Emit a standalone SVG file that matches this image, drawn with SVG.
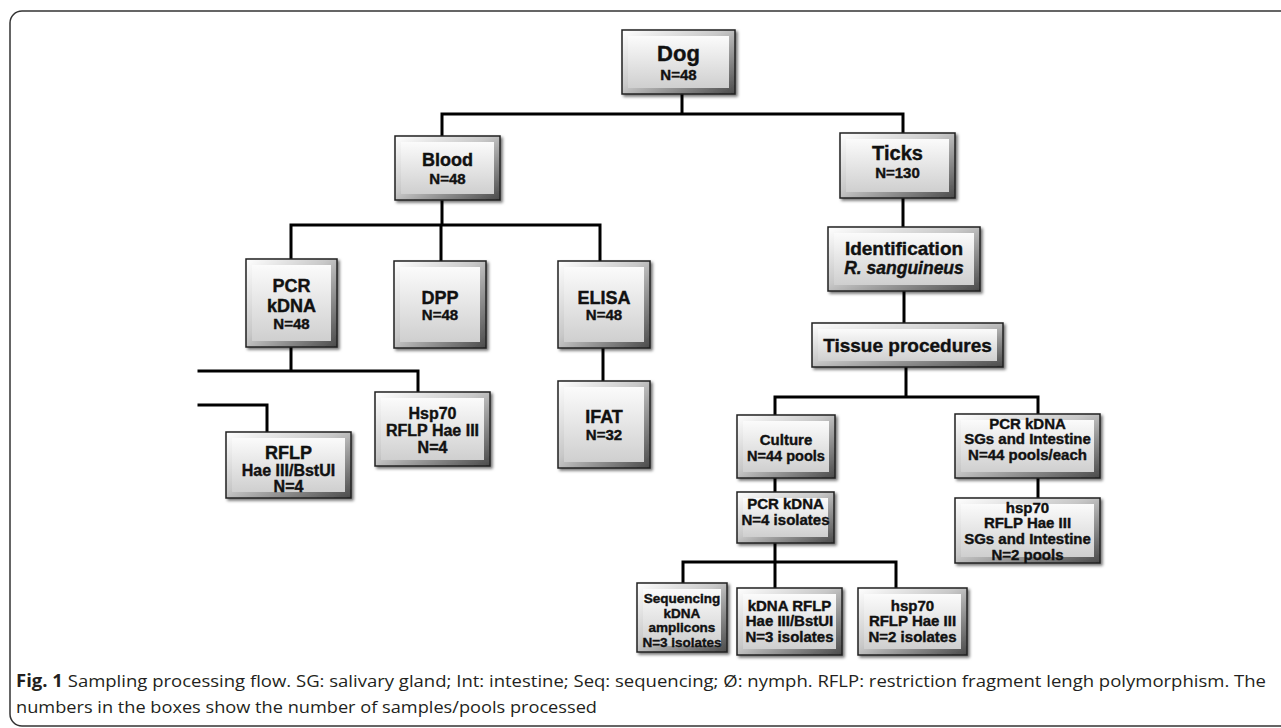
<svg xmlns="http://www.w3.org/2000/svg" width="1281" height="728" viewBox="0 0 1281 728">
<defs>
<linearGradient id="edge" x1="0" y1="0" x2="1" y2="1">
<stop offset="0" stop-color="#ffffff"/>
<stop offset="0.45" stop-color="#c8c8c8"/>
<stop offset="1" stop-color="#4a4a4a"/>
</linearGradient>
<linearGradient id="face" x1="0" y1="0" x2="0" y2="1">
<stop offset="0" stop-color="#fbfbfb"/>
<stop offset="1" stop-color="#cfcfcf"/>
</linearGradient>
<filter id="sh" x="-10%" y="-10%" width="130%" height="130%">
<feDropShadow dx="2" dy="2" stdDeviation="1.5" flood-color="#000" flood-opacity="0.55"/>
</filter>
<style>
.o{fill:url(#edge);stroke:#222;stroke-width:1.5;filter:url(#sh)}
.i{fill:url(#face)}
.t{font-family:"Liberation Sans",Arial,sans-serif;font-weight:bold;text-anchor:middle;fill:#111;stroke:#111;stroke-width:0.4}
.c{fill:none;stroke:#000;stroke-width:3;stroke-linecap:square}
.cap{font-family:"Open Sans","Liberation Sans",sans-serif;font-size:17px;fill:#231f20}
</style>
</defs>
<rect width="1281" height="728" fill="#fff"/>
<path d="M1290,11 H22 A12,12 0 0 0 10,23 V714 A12,12 0 0 0 22,726 H1290" fill="none" stroke="#333" stroke-width="1.5"/>

<g id="connectors">
<path class="c" d="M682,94 V114 M442,114 H903 M442,114 V136 M903,114 V133"/>
<path class="c" d="M442,200 V225 M291,225 H600 M291,225 V259 M441,225 V261 M600,225 V261"/>
<path class="c" d="M291,347 V371 M199,371 H418 V392 M199,405 H267 V432"/>
<path class="c" d="M603,348 V381"/>
<path class="c" d="M903,198 V227 M904,291 V323"/>
<path class="c" d="M906,367 V397 M775,397 H1038 M775,397 V415 M1038,397 V414"/>
<path class="c" d="M775,478 V492 M1038,478 V498"/>
<path class="c" d="M775,543 V588 M683,562 H896 M683,562 V583 M896,562 V588"/>
</g>

<g id="dog">
<rect class="o" x="622" y="30" width="113" height="64"/><rect class="i" x="628" y="36" width="101" height="52"/>
<text class="t" x="678.5" y="61" font-size="22">Dog</text>
<text class="t" x="678.5" y="80" font-size="15">N=48</text>
</g>
<g id="blood">
<rect class="o" x="395" y="136" width="105" height="64"/><rect class="i" x="401" y="142" width="93" height="52"/>
<text class="t" x="447.5" y="165.5" font-size="18">Blood</text>
<text class="t" x="447.5" y="183.5" font-size="15">N=48</text>
</g>
<g id="ticks">
<rect class="o" x="840" y="133" width="115" height="65"/><rect class="i" x="846" y="139" width="103" height="53"/>
<text class="t" x="897.5" y="160" font-size="20">Ticks</text>
<text class="t" x="897.5" y="177.5" font-size="15">N=130</text>
</g>
<g id="identification">
<rect class="o" x="828" y="227" width="152" height="64"/><rect class="i" x="834" y="233" width="140" height="52"/>
<text class="t" x="904" y="255" font-size="19">Identification</text>
<text class="t" x="904" y="274" font-size="17.5" font-style="italic">R. sanguineus</text>
</g>
<g id="tissue">
<rect class="o" x="812" y="323" width="191" height="44"/><rect class="i" x="818" y="329" width="179" height="32"/>
<text class="t" x="907.5" y="352" font-size="19">Tissue procedures</text>
</g>
<g id="pcr-blood">
<rect class="o" x="246" y="259" width="91" height="88"/><rect class="i" x="252" y="265" width="79" height="76"/>
<text class="t" x="291.5" y="291.5" font-size="18">PCR</text>
<text class="t" x="291.5" y="312" font-size="18">kDNA</text>
<text class="t" x="291.5" y="328.5" font-size="15">N=48</text>
</g>
<g id="dpp">
<rect class="o" x="394" y="261" width="92" height="87"/><rect class="i" x="400" y="267" width="80" height="75"/>
<text class="t" x="440" y="303.5" font-size="18">DPP</text>
<text class="t" x="440" y="320" font-size="15">N=48</text>
</g>
<g id="elisa">
<rect class="o" x="558" y="261" width="92" height="87"/><rect class="i" x="564" y="267" width="80" height="75"/>
<text class="t" x="604" y="303.5" font-size="18">ELISA</text>
<text class="t" x="604" y="320" font-size="15">N=48</text>
</g>
<g id="ifat">
<rect class="o" x="558" y="381" width="92" height="87"/><rect class="i" x="564" y="387" width="80" height="75"/>
<text class="t" x="604" y="422.5" font-size="18">IFAT</text>
<text class="t" x="604" y="440" font-size="15">N=32</text>
</g>
<g id="hsp70-blood">
<rect class="o" x="375" y="392" width="115" height="74"/><rect class="i" x="381" y="398" width="103" height="62"/>
<text class="t" x="432.5" y="419" font-size="16">Hsp70</text>
<text class="t" x="432.5" y="436" font-size="16">RFLP Hae III</text>
<text class="t" x="432.5" y="452.5" font-size="16">N=4</text>
</g>
<g id="rflp-blood">
<rect class="o" x="226" y="432" width="125" height="66"/><rect class="i" x="232" y="438" width="113" height="54"/>
<text class="t" x="288.5" y="458.5" font-size="18">RFLP</text>
<text class="t" x="288.5" y="476" font-size="16">Hae III/BstUI</text>
<text class="t" x="288.5" y="491.5" font-size="16">N=4</text>
</g>
<g id="culture">
<rect class="o" x="737" y="415" width="98" height="63"/><rect class="i" x="743" y="421" width="86" height="51"/>
<text class="t" x="786" y="444.5" font-size="15">Culture</text>
<text class="t" x="786" y="460.5" font-size="14.5">N=44 pools</text>
</g>
<g id="pcr-sgs">
<rect class="o" x="955" y="414" width="145" height="64"/><rect class="i" x="961" y="420" width="133" height="52"/>
<text class="t" x="1027.5" y="428.5" font-size="15">PCR kDNA</text>
<text class="t" x="1027.5" y="443.5" font-size="15">SGs and Intestine</text>
<text class="t" x="1027.5" y="459.5" font-size="15">N=44 pools/each</text>
</g>
<g id="pcr-isolates">
<rect class="o" x="737" y="492" width="97" height="51"/><rect class="i" x="743" y="498" width="85" height="39"/>
<text class="t" x="785.5" y="508.5" font-size="15">PCR kDNA</text>
<text class="t" x="785.5" y="524.5" font-size="15">N=4 isolates</text>
</g>
<g id="hsp70-sgs">
<rect class="o" x="955" y="498" width="145" height="65"/><rect class="i" x="961" y="504" width="133" height="53"/>
<text class="t" x="1027.5" y="513" font-size="15">hsp70</text>
<text class="t" x="1027.5" y="528" font-size="15">RFLP Hae III</text>
<text class="t" x="1027.5" y="543.5" font-size="15">SGs and Intestine</text>
<text class="t" x="1027.5" y="559.5" font-size="15">N=2 pools</text>
</g>
<g id="sequencing">
<rect class="o" x="637" y="583" width="90" height="69"/><rect class="i" x="643" y="589" width="78" height="57"/>
<text class="t" x="682" y="603" font-size="13.5">Sequencing</text>
<text class="t" x="682" y="618" font-size="13.5">kDNA</text>
<text class="t" x="682" y="632" font-size="13.5">amplicons</text>
<text class="t" x="682" y="647" font-size="13.5">N=3 isolates</text>
</g>
<g id="kdna-rflp">
<rect class="o" x="737" y="588" width="105" height="67"/><rect class="i" x="743" y="594" width="93" height="55"/>
<text class="t" x="789.5" y="611" font-size="15">kDNA RFLP</text>
<text class="t" x="789.5" y="626" font-size="15">Hae III/BstUI</text>
<text class="t" x="789.5" y="642" font-size="15">N=3 isolates</text>
</g>
<g id="hsp70-isolates">
<rect class="o" x="858" y="588" width="109" height="67"/><rect class="i" x="864" y="594" width="97" height="55"/>
<text class="t" x="912.5" y="611" font-size="15">hsp70</text>
<text class="t" x="912.5" y="626" font-size="15">RFLP Hae III</text>
<text class="t" x="912.5" y="642" font-size="15">N=2 isolates</text>
</g>

<g id="caption">
<text class="cap" x="16" y="687" textLength="1250" lengthAdjust="spacingAndGlyphs"><tspan font-weight="bold">Fig. 1</tspan> Sampling processing flow. SG: salivary gland; Int: intestine; Seq: sequencing; Ø: nymph. RFLP: restriction fragment lengh polymorphism. The</text>
<text class="cap" x="16" y="713" textLength="581" lengthAdjust="spacingAndGlyphs">numbers in the boxes show the number of samples/pools processed</text>
</g>
</svg>
